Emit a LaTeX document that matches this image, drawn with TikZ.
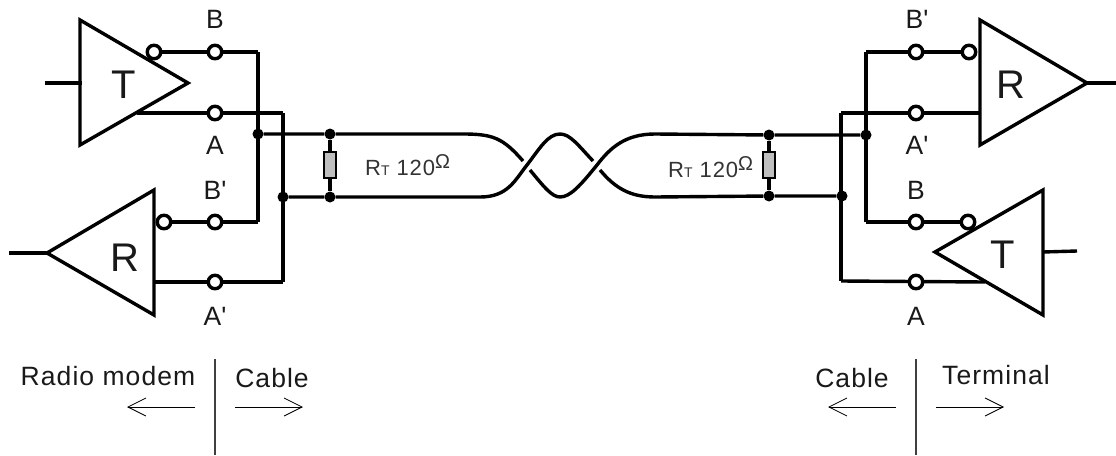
\documentclass[tikz,border=0pt]{standalone}
\usepackage{fontspec}
\setmainfont[LetterSpace=4]{Liberation Sans}
\usetikzlibrary{arrows.meta}
\tikzset{
  wire/.style={line width=3.4pt,line join=miter},
  tri/.style={line width=3.4pt,line join=miter},
  term/.style={circle,draw,line width=3.4pt,fill=white,minimum size=13.5pt,inner sep=0pt},
  junction/.style={circle,fill=black,minimum size=11pt,inner sep=0pt},
  resistor/.style={rectangle,draw,line width=1.6pt,fill=black!25,minimum width=12pt,minimum height=26pt,inner sep=0pt},
  lab/.style={inner sep=0pt,font=\fontsize{26.5}{29}\selectfont,text=black!90},
  big/.style={inner sep=0pt,font=\fontsize{40}{44}\selectfont,text=black!90},
  ohm/.style={inner sep=0pt,text=black!80,font=\fontsize{22}{25}\selectfont,anchor=base west},
  thin arrow/.style={line width=1pt,-{Straight Barb[length=18pt,width=18pt,line width=0.8pt]}},
  divider/.style={line width=1.2pt,black!75}
}
\begin{document}
\begin{tikzpicture}[x=1pt,y=-1pt]
\useasboundingbox (0,0) rectangle (1116,455);
% corner points
\coordinate (c1) at (258,52); \coordinate (c2) at (258,222);
\coordinate (c3) at (283,113); \coordinate (c4) at (283,282);
\coordinate (c5) at (866,52); \coordinate (c6) at (866,222);
\coordinate (c7) at (841,113); \coordinate (c8) at (841,281);
\coordinate (lt) at (137,113); \coordinate (lr) at (155,282);
\coordinate (rr) at (980,113); \coordinate (rt) at (985,282);
% free ends
\coordinate (tin) at (45,83); \coordinate (tpin) at (82,83);
\coordinate (rout) at (9,253); \coordinate (rtip) at (47,253);
\coordinate (r2tip) at (1087,83); \coordinate (r2out) at (1116,83);
\coordinate (t2b) at (1043,252); \coordinate (t2in) at (1077,251);
% junctions
\node[junction] (j1) at (258,134) {};
\node[junction] (j2) at (283,197) {};
\node[junction] (j3) at (330,134) {};
\node[junction] (j4) at (330,197) {};
\node[junction] (j5) at (769,135) {};
\node[junction] (j6) at (769,196) {};
\node[junction] (j7) at (866,135) {};
\node[junction] (j8) at (842,196) {};
% wires left
\draw[wire] (c1) -- (c2);
\draw[wire] (c3) -- (c4);
\draw[wire] (154,52) -- (c1);
\draw[wire] (164,222) -- (c2);
\draw[wire] (lt) -- (c3);
\draw[wire] (lr) -- (c4);
% wires right
\draw[wire] (c5) -- (c6);
\draw[wire] (c7) -- (c8);
\draw[wire] (969,52) -- (c5);
\draw[wire] (968,222) -- (c6);
\draw[wire] (rr) -- (c7);
\draw[wire] (rt) -- (c8);
% stubs
\draw[wire] (tin) -- (tpin);
\draw[wire] (rout) -- (rtip);
\draw[wire] (r2tip) -- (r2out);
\draw[wire] (t2b) -- (t2in);
% cable
\draw[wire] (j1) -- (j3) -- (463,134) .. controls (493,134) and (503,138) .. (523,161);
\draw[wire] (j2) -- (j4) -- (480,197) .. controls (508,197) and (515,180) .. (527,165) .. controls (540,148) and (548,134) .. (560,134) .. controls (570,134) and (578,145) .. (593,161);
\draw[wire] (530,170) .. controls (544,187) and (552,197) .. (560,197) .. controls (570,197) and (580,186) .. (597,165) .. controls (610,148) and (625,134) .. (655,134) -- (j5) -- (j7);
\draw[wire] (600,170) .. controls (615,188) and (630,197) .. (655,197) -- (j6) -- (j8);
% resistors
\node[resistor] (rl) at (330,165) {};
\draw[line width=3.4pt] (j3) -- (rl);
\draw[line width=3.4pt] (rl) -- (j4);
\node[resistor] (rx) at (769,165) {};
\draw[line width=3.4pt] (j5) -- (rx);
\draw[line width=3.4pt] (rx) -- (j6);
% triangles
\draw[tri] (80,20) -- (80,145) -- (188,83) -- cycle;
\draw[tri] (154,190) -- (154,315) -- (47,253) -- cycle;
\draw[tri] (980,20) -- (980,145) -- (1087,83) -- cycle;
\draw[tri] (1043,190) -- (1043,315) -- (935,252) -- cycle;
% terminals and bubbles
\foreach \n/\x/\y in {tb/154/52,tB/215/52,tA/215/113,rb/164/222,rB/215/222,rA/215/282,
  Rb/969/52,RB/916/52,RA/916/113,Tb/968/222,TB/916/222,TA/916/282}
  \node[term] (\n) at (\x,\y) {};
% labels
\node[big] (t1) at (124,85) {T};
\node[big] (r1) at (125,258) {R};
\node[big] (r2) at (1011,85) {R};
\node[big] (t2) at (1003,255) {T};
\node[lab] (l1) at (215,19) {B};
\node[lab] (l2) at (215,145) {A};
\node[lab] (l3) at (215,190) {B\textquotesingle};
\node[lab] (l4) at (215,316) {A\textquotesingle};
\node[lab] (l5) at (917,19) {B\textquotesingle};
\node[lab] (l6) at (917,145) {A\textquotesingle};
\node[lab] (l7) at (916,190) {B};
\node[lab] (l8) at (916,316) {A};
\node[lab] (m1) at (108,376) {Radio modem};
\node[lab] (m2) at (272,378) {Cable};
\node[lab] (m3) at (852,378) {Cable};
\node[lab] (m4) at (996,375) {Terminal};
\node[ohm] (v1) at (365,175) {R{\fontsize{14}{15}\selectfont T} 120\raisebox{7pt}{\fontsize{20}{22}\selectfont Ω}};
\node[ohm] (v2) at (668,177) {R{\fontsize{14}{15}\selectfont T} 120\raisebox{7pt}{\fontsize{20}{22}\selectfont Ω}};
% dividers and arrows
\coordinate (d1a) at (215,359); \coordinate (d1b) at (215,455);
\coordinate (d2a) at (916,359); \coordinate (d2b) at (916,455);
\draw[divider] (d1a) -- (d1b);
\draw[divider] (d2a) -- (d2b);
\coordinate (a1) at (195,407); \coordinate (a2) at (127,407);
\coordinate (a3) at (235,407); \coordinate (a4) at (303,407);
\coordinate (a5) at (896,407); \coordinate (a6) at (828,407);
\coordinate (a7) at (936,407); \coordinate (a8) at (1004,407);
\draw[thin arrow] (a1) -- (a2);
\draw[thin arrow] (a3) -- (a4);
\draw[thin arrow] (a5) -- (a6);
\draw[thin arrow] (a7) -- (a8);
\end{tikzpicture}
\end{document}
